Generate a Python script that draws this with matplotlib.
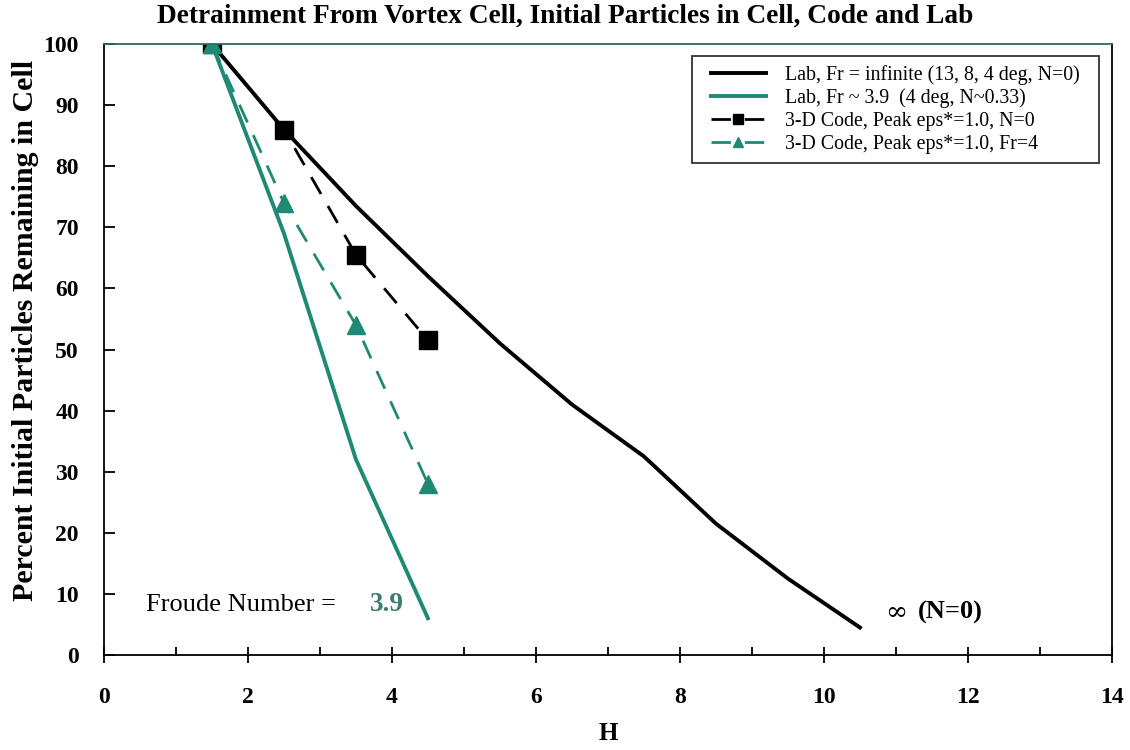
import matplotlib.pyplot as plt
from matplotlib.ticker import MultipleLocator

plt.rcParams['font.family'] = ['Liberation Serif', 'DejaVu Serif']

teal = '#1f8a74'

# lab measurements
lab_inf_h = [1.5, 2.5, 3.5, 4.5, 5.5, 6.5, 7.5, 8.5, 9.5, 10.5]
lab_inf_pct = [100, 86, 73.5, 62, 51, 41, 32.5, 21.5, 12.5, 4.5]
lab_fr_h = [1.5, 2.5, 3.5, 4.5]
lab_fr_pct = [100, 69, 32, 6]

# 3-D code runs
code_n0_h = [1.5, 2.5, 3.5, 4.5]
code_n0_pct = [100, 86, 65.5, 51.5]
code_fr4_h = [1.5, 2.5, 3.5, 4.5]
code_fr4_pct = [100, 74, 54, 28]

fig = plt.figure(figsize=(11.3, 7.5), dpi=100)
ax = fig.add_axes([0.092, 0.1267, 0.892, 0.8146])

dash = (0, (7, 5))
ax.plot(lab_inf_h, lab_inf_pct, color='black', lw=2.8,
        label='Lab, Fr = infinite (13, 8, 4 deg, N=0)')
ax.plot(lab_fr_h, lab_fr_pct, color=teal, lw=2.8,
        label='Lab, Fr ~ 3.9  (4 deg, N~0.33)')
ax.plot(code_n0_h, code_n0_pct, color='black', lw=2, ls=dash,
        marker='s', ms=13, label='3-D Code, Peak eps*=1.0, N=0')
ax.plot(code_fr4_h, code_fr4_pct, color=teal, lw=2, ls=dash,
        marker='^', ms=13, label='3-D Code, Peak eps*=1.0, Fr=4')

ax.set_xlim(0, 14)
ax.set_ylim(0, 100)
ax.xaxis.set_major_locator(MultipleLocator(2))
ax.xaxis.set_minor_locator(MultipleLocator(1))
ax.yaxis.set_major_locator(MultipleLocator(10))
ax.tick_params(axis='x', which='major', direction='inout', length=12, width=1.3,
               pad=17, labelsize=17)
ax.tick_params(axis='x', which='minor', direction='in', length=6, width=1.3)
ax.tick_params(axis='y', which='major', direction='in', length=8, width=1.3,
               pad=18, labelsize=17)
for lbl in ax.get_xticklabels() + ax.get_yticklabels():
    lbl.set_fontweight('bold')
for s in ax.spines.values():
    s.set_linewidth(1.3)
ax.spines['top'].set_color('#2d6b63')

ax.set_xlabel('H', fontsize=18, fontweight='bold', labelpad=10)
ax.set_ylabel('Percent Initial Particles Remaining in Cell', fontsize=21.5,
              fontweight='bold')
ax.yaxis.set_label_coords(-0.064, 0.532)
fig.suptitle('Detrainment From Vortex Cell, Initial Particles in Cell, Code and Lab',
             fontsize=19.7, fontweight='bold', y=0.995)

ax.text(0.58, 8.2, 'Froude Number =', fontsize=19, va='center')
ax.text(3.69, 8.2, '3.9', fontsize=19.5, fontweight='bold', color='#3c7d70', va='center')
ax.text(10.85, 6.9, '\u221e', fontsize=19, va='center', family=['DejaVu Serif'])
ax.text(11.3, 6.9, '(N=0)', fontsize=19, fontweight='bold', va='center')

leg = ax.legend(loc='upper right', bbox_to_anchor=(0.977, 0.98), borderaxespad=0,
                fontsize=14.3, frameon=True, fancybox=False, edgecolor='black',
                handlelength=2.8, labelspacing=0.18, borderpad=0.45,
                handletextpad=0.95, markerscale=0.6)
# wider side margins than top/bottom
frame = leg.get_frame()
frame.set_boxstyle('square', pad=0.5)
frame.set_mutation_aspect(0.02)
frame.set_linewidth(1.3)

fig.savefig('out.png', dpi=100)
